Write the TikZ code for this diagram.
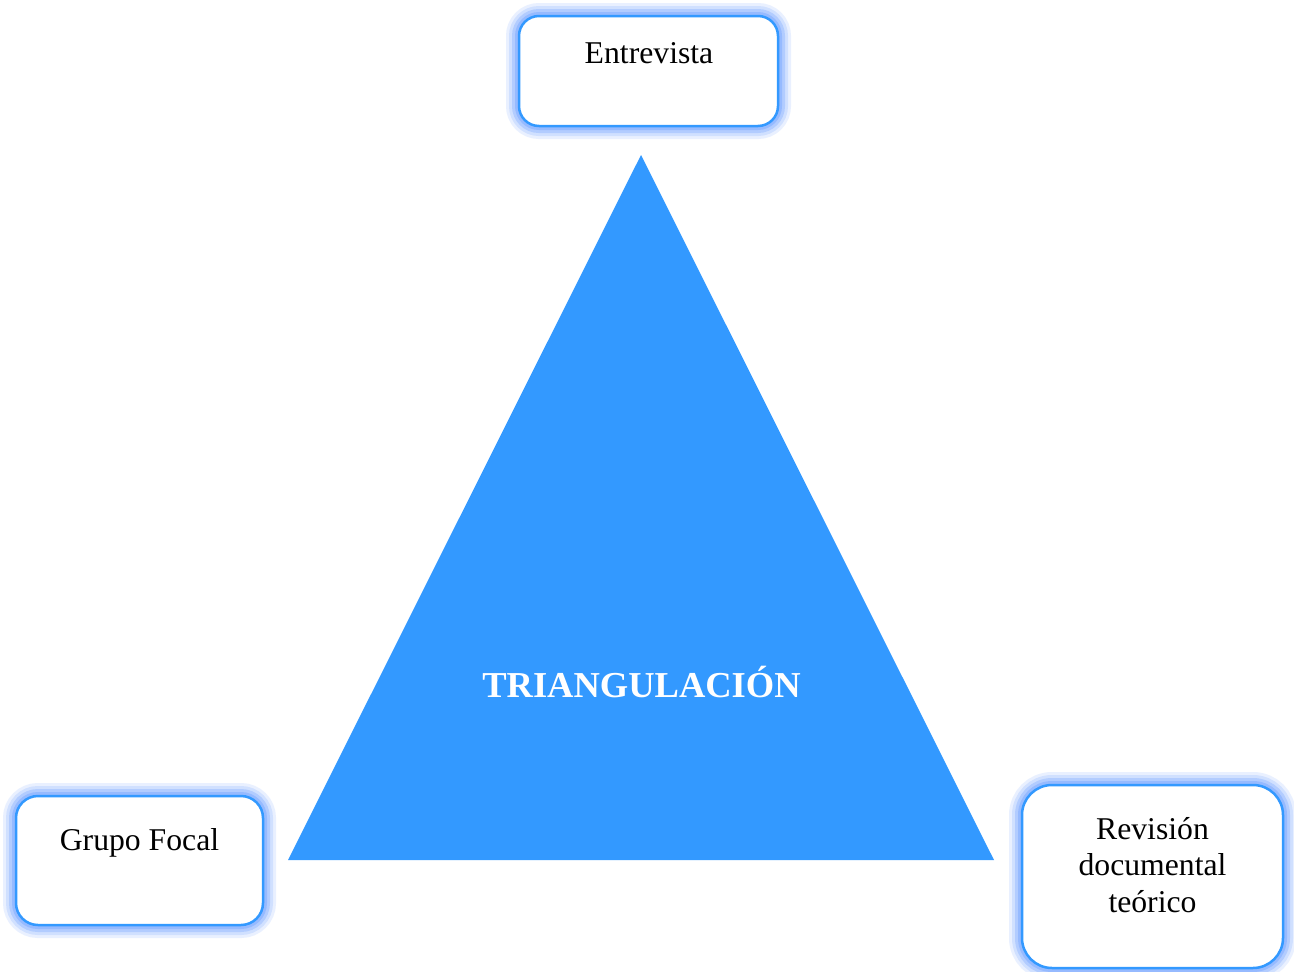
\documentclass[tikz,border=0pt]{standalone}
\usepackage{fontspec}
\setmainfont{Liberation Serif}
\definecolor{mainblue}{RGB}{51,153,255}
\definecolor{glowblue}{RGB}{110,160,255}
\begin{document}
\begin{tikzpicture}[x=1pt,y=-1pt,
  glowbox/.style={draw=mainblue, line width=2.5pt, fill=white, inner sep=0pt,
    preaction={draw=glowblue, line width=26pt, opacity=0.15},
    preaction={draw=glowblue, line width=20pt, opacity=0.2},
    preaction={draw=glowblue, line width=14pt, opacity=0.3},
    preaction={draw=glowblue, line width=8pt, opacity=0.4}},
  boxtext/.style={anchor=base, font=\fontsize{31.7}{36.5}\selectfont, align=center, inner sep=0pt}]
\useasboundingbox[fill=white] (0,0) rectangle (1294,972);
% triangle
\coordinate (apex) at (641,155);
\coordinate (bl) at (288,860);
\coordinate (br) at (994,860);
\fill[mainblue] (apex) -- (bl) -- (br) -- cycle;
\node[anchor=base, text=white, inner sep=0pt, font=\fontsize{36.5}{40}\selectfont\bfseries] (tri) at (641.5,697) {TRIANGULACIÓN};
% boxes
\node[glowbox, rounded corners=20pt, minimum width=259pt, minimum height=110pt] (ent) at (648.5,71) {};
\node[boxtext] (entt) at (649,63) {Entrevista};
\node[glowbox, rounded corners=22pt, minimum width=247pt, minimum height=129pt] (gf) at (139.5,860.5) {};
\node[boxtext] (gft) at (139.5,850) {Grupo Focal};
\node[glowbox, rounded corners=30pt, minimum width=261pt, minimum height=183pt] (rev) at (1152.5,876.5) {};
\node[boxtext] (rev1) at (1152.5,839) {Revisión};
\node[boxtext] (rev2) at (1152.5,875.5) {documental};
\node[boxtext] (rev3) at (1152.5,912) {teórico};
\end{tikzpicture}
\end{document}
